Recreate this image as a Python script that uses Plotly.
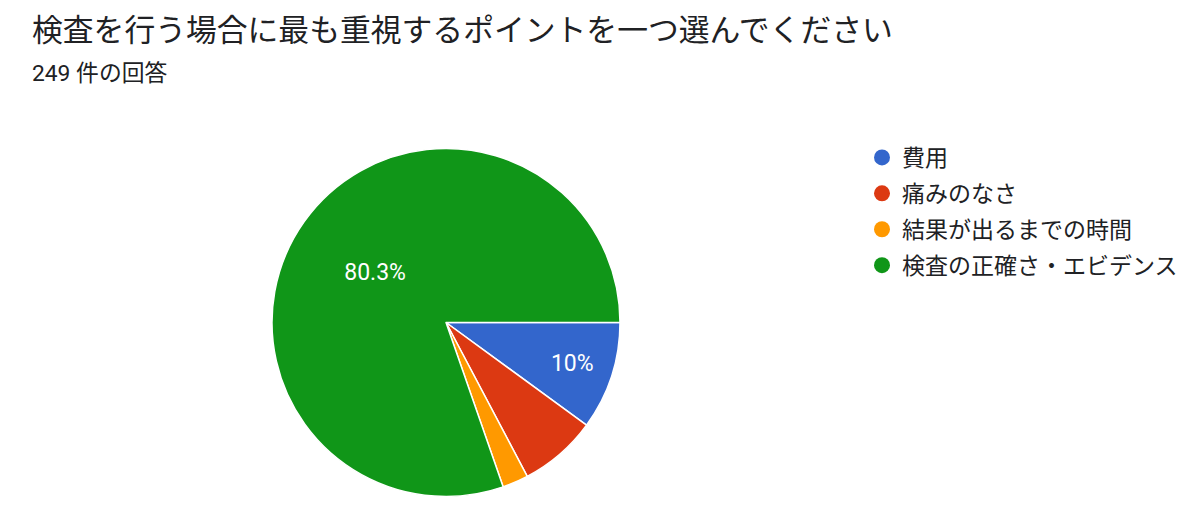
import plotly.graph_objects as go

# Data
categories = ["費用", "痛みのなさ", "結果が出るまでの時間", "検査の正確さ・エビデンス"]
counts = [25, 18, 6, 200]
slice_labels = ["10%", "", "", "80.3%"]
colors = ["#3366CC", "#DC3912", "#FF9900", "#109618"]
title_text = "検査を行う場合に最も重視するポイントを一つ選んでください"
subtitle_text = "249 件の回答"

FONT = "Roboto, 'Noto Sans CJK JP', sans-serif"
W, H = 1199, 521

fig = go.Figure()
fig.add_trace(go.Pie(
    labels=categories,
    values=counts,
    text=slice_labels,
    textinfo="text",
    textposition="inside",
    insidetextorientation="horizontal",
    textfont=dict(family=FONT, size=23, color="white"),
    marker=dict(colors=colors, line=dict(color="white", width=1.5)),
    sort=False,
    direction="clockwise",
    rotation=90,
    showlegend=False,
    hoverinfo="label+value+percent",
    domain=dict(x=[272 / W, 620 / W], y=[1 - 497 / H, 1 - 148 / H]),
))

# Legend entries with circular symbols
for i, (name, col) in enumerate(zip(categories, colors)):
    fig.add_trace(go.Scatter(
        x=[None], y=[None], mode="markers", name=name,
        marker=dict(symbol="circle", size=16, color=col),
        legendgroup=f"g{i}", showlegend=True, hoverinfo="skip",
    ))

fig.update_layout(
    width=W, height=H,
    margin=dict(l=0, r=0, t=0, b=0),
    paper_bgcolor="white", plot_bgcolor="white",
    font=dict(family=FONT, color="#202124"),
    xaxis=dict(visible=False), yaxis=dict(visible=False),
    legend=dict(
        x=862 / W, y=1 - 136 / H, xanchor="left", yanchor="top",
        font=dict(family=FONT, size=23, color="#202124"),
        tracegroupgap=3, bgcolor="rgba(0,0,0,0)",
    ),
    annotations=[
        dict(text=title_text, x=30 / W, y=1 - 31 / H, xref="paper", yref="paper",
             xanchor="left", yanchor="middle", showarrow=False,
             font=dict(family=FONT, size=30.8, color="#202124")),
        dict(text=subtitle_text, x=30 / W, y=1 - 73 / H, xref="paper", yref="paper",
             xanchor="left", yanchor="middle", showarrow=False,
             font=dict(family=FONT, size=22.8, color="#202124")),
    ],
)

fig.write_html("out.html")
